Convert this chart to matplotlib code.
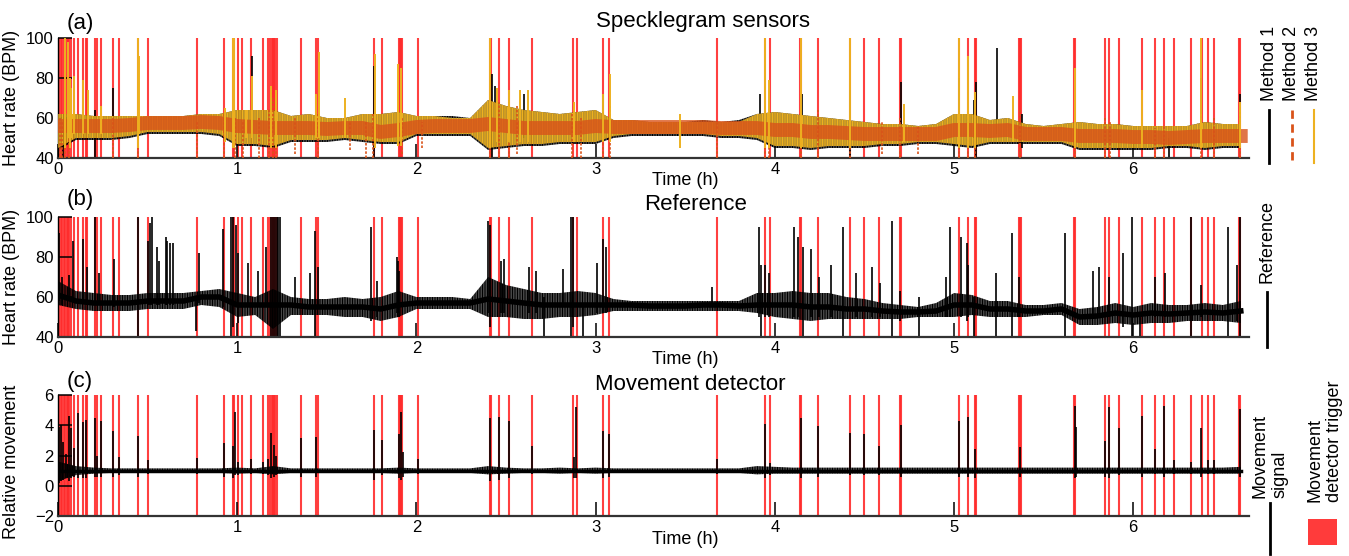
import numpy as np
import matplotlib.pyplot as plt
from matplotlib.lines import Line2D
from matplotlib.patches import Rectangle

plt.rcParams['font.family'] = ['Liberation Sans', 'DejaVu Sans']
plt.rcParams['hatch.linewidth'] = 1.0

# envelope grid (hours), one reading every 0.1 h
t_grid = np.round(np.arange(0, 6.65, 0.1), 1)

# movement detector triggers (h)
triggers = [0.0, 0.008, 0.016, 0.024, 0.032, 0.040, 0.048, 0.056, 0.064, 0.075, 0.088,
            0.112, 0.137, 0.155, 0.163, 0.206, 0.215, 0.238, 0.309, 0.341, 0.444, 0.502,
            0.773, 0.927, 0.978, 0.983, 1.006, 1.026, 1.077, 1.142, 1.170, 1.185, 1.192,
            1.199, 1.206, 1.213, 1.220, 1.358, 1.442, 1.450, 1.764, 1.809, 1.901, 1.908,
            1.915, 1.922, 2.009, 2.410, 2.416, 2.463, 2.515, 2.645, 2.875, 2.897, 3.043,
            3.077, 3.678, 3.945, 3.972, 4.143, 4.148, 4.241, 4.422, 4.496, 4.580, 4.700,
            4.705, 5.028, 5.080, 5.115, 5.122, 5.362, 5.368, 5.374, 5.670, 5.677, 5.845,
            5.867, 5.921, 6.051, 6.124, 6.172, 6.226, 6.321, 6.381, 6.418, 6.449, 6.592,
            6.598]

# ---- (a) specklegram sensors: noise envelope + centre of each method (BPM) ----
m1_lo = [44, 49, 49, 49, 50, 52, 52, 52, 52, 51, 46, 46, 45, 48, 48, 48, 49, 48, 47, 47,
         51, 51, 51, 51, 44, 45, 46, 46, 47, 47, 47, 50, 51, 51, 51, 51, 51, 50, 50, 49,
         45, 45, 44, 45, 45, 45, 46, 46, 47, 47, 46, 45, 47, 47, 47, 47, 47, 44, 44, 44,
         44, 44, 45, 45, 44, 45, 45]
m1_hi = [62, 62, 61, 61, 61, 61, 61, 61, 62, 62, 64, 64, 64, 61, 62, 60, 60, 62, 62, 63,
         61, 61, 61, 60, 69, 66, 64, 63, 62, 63, 64, 59, 59, 58, 58, 58, 59, 58, 59, 62,
         63, 62, 61, 60, 59, 58, 57, 57, 56, 57, 62, 62, 59, 60, 57, 56, 57, 58, 57, 57,
         56, 56, 56, 56, 58, 57, 57]
m3_lo = [45, 50, 50, 50, 51, 53, 53, 53, 53, 52, 47, 47, 46, 49, 49, 49, 50, 49, 48, 48,
         52, 52, 52, 52, 45, 46, 47, 47, 48, 48, 48, 51, 52, 52, 52, 52, 52, 51, 51, 50,
         46, 46, 45, 46, 46, 46, 47, 47, 48, 48, 47, 46, 48, 48, 48, 48, 48, 45, 45, 45,
         45, 45, 46, 46, 45, 46, 46]
m3_hi = [62, 62, 61, 61, 61, 61, 61, 61, 62, 62, 64, 64, 64, 61, 62, 60, 60, 62, 62, 63,
         61, 61, 60, 60, 69, 66, 64, 63, 62, 63, 64, 59, 59, 58, 58, 58, 58, 58, 58, 62,
         63, 62, 61, 60, 59, 58, 57, 57, 56, 57, 62, 62, 59, 60, 57, 56, 57, 58, 57, 57,
         56, 56, 56, 56, 58, 57, 57]
m2_mid = [56, 56, 56, 56, 56.5, 57.5, 57.5, 57.5, 58, 57.5, 56, 55.5, 55, 55, 55, 54.5,
          55, 55, 53, 54, 55.5, 56, 56, 56, 57, 56, 55, 55, 55, 55, 56, 55.5, 55.5, 55.5,
          55.5, 55.5, 55.5, 55, 55, 55, 54, 54, 53, 53, 52.5, 52, 52, 52, 52, 52, 54, 54,
          53.5, 54, 52, 52, 52, 51, 51, 51, 50.5, 50.5, 50, 50.5, 51, 51, 51]

# single spikes (time h, low, high)
m1_spk_t = [0.03, 0.206, 0.309, 1.08, 1.764, 2.42, 2.44, 2.60, 3.04, 3.92, 4.15, 4.42,
            4.703, 5.028, 5.11, 5.12, 5.24, 5.38, 6.20, 6.38, 6.594]
m1_spk_lo = [40, 40, 52, 50, 40, 40, 45, 50, 50, 50, 50, 40, 50, 48, 50, 40, 52, 45, 40,
             45, 45]
m1_spk_hi = [62, 64, 75, 91, 86, 82, 76, 72, 72, 72, 72, 74, 78, 80, 69, 78, 95, 62, 50,
             80, 72]
m3_spk_t = [0.04, 0.056, 0.065, 0.07, 0.088, 0.14, 0.17, 0.24, 0.444, 0.45, 0.93, 0.978,
            0.983, 1.05, 1.08, 1.19, 1.215, 1.442, 1.455, 1.60, 1.77, 1.90, 1.915, 2.413,
            2.45, 2.515, 2.58, 2.62, 2.878, 3.043, 3.08, 3.47, 3.945, 3.965, 4.145, 4.42,
            4.72, 5.028, 5.08, 5.115, 5.33, 5.673, 6.05, 6.38, 6.594]
m3_spk_lo = [45, 50, 45, 50, 52, 52, 52, 52, 45, 52, 48, 45, 45, 50, 50, 45, 45, 50, 50,
             50, 45, 46, 46, 45, 48, 48, 48, 48, 48, 48, 48, 45, 45, 45, 45, 45, 48, 45,
             45, 45, 48, 45, 45, 45, 45]
m3_spk_hi = [100, 98, 80, 75, 81, 79, 74, 66, 100, 91, 65, 100, 100, 64, 81, 76, 74, 72,
             93, 70, 92, 87, 85, 100, 75, 74, 74, 74, 68, 72, 82, 62, 100, 79, 100, 100,
             67, 100, 91, 73, 71, 85, 74, 100, 68]
m2_spk_t = [0.01, 0.02, 0.04, 0.06, 0.309, 0.444, 0.773, 0.927, 0.99, 1.03, 1.12, 1.18,
            1.20, 1.215, 1.32, 1.45, 1.63, 1.72, 1.76, 1.92, 2.03, 2.41, 2.46, 2.515, 2.56,
            2.87, 2.92, 3.04, 3.08, 3.68, 3.945, 3.97, 4.145, 4.24, 4.42, 4.60, 4.70, 4.80,
            5.03, 5.08, 5.115, 5.37, 5.674, 5.845, 5.87, 6.12, 6.17, 6.38, 6.45, 6.594]
m2_spk_lo = [40, 40, 40, 40, 40, 40, 40, 40, 40, 40, 40, 40, 40, 40, 42, 40, 44, 40, 40,
             42, 45, 40, 40, 40, 42, 40, 40, 40, 40, 40, 40, 40, 40, 40, 40, 42, 40, 42,
             40, 40, 40, 40, 40, 40, 40, 40, 40, 40, 40, 40]
m2_spk_hi = [60, 58, 60, 58, 60, 60, 58, 62, 60, 58, 60, 65, 70, 68, 60, 62, 58, 58, 62,
             60, 58, 70, 68, 72, 66, 62, 60, 64, 66, 58, 66, 62, 62, 64, 60, 58, 60, 56,
             62, 64, 62, 64, 60, 60, 58, 55, 56, 62, 60, 64]

# ---- (b) reference heart rate (BPM) ----
ref_lo = [56, 54, 53, 53, 53, 54, 54, 54, 56, 55, 50, 51, 44, 51, 51, 51, 50, 50, 48, 50,
          54, 54, 54, 54, 50, 50, 49, 49, 50, 50, 51, 53, 53, 53, 53, 53, 53, 53, 53, 52,
          50, 49, 48, 49, 49, 49, 49, 49, 50, 50, 50, 51, 50, 50, 50, 51, 51, 46, 46, 47,
          46, 47, 47, 48, 48, 48, 47]
ref_hi = [68, 63, 62, 61, 61, 62, 62, 62, 63, 64, 62, 60, 64, 60, 59, 59, 60, 59, 60, 63,
          60, 60, 60, 59, 70, 66, 64, 62, 62, 63, 62, 59, 58, 58, 58, 58, 58, 58, 58, 62,
          62, 63, 62, 62, 60, 59, 57, 56, 55, 57, 62, 61, 58, 58, 56, 56, 57, 54, 55, 57,
          55, 57, 56, 56, 57, 56, 58]
ref_mid = [61, 58, 57, 57, 57, 58, 58, 58, 60, 60, 56, 56, 56, 56, 55, 55, 55, 55, 54, 56,
           57, 57, 57, 57, 59, 58, 57, 56, 56, 56, 56, 56, 56, 55.5, 55.5, 55.5, 56, 56,
           55.5, 56, 56, 56, 55, 55, 54, 54, 53, 52.5, 52.5, 53, 56, 56, 54, 54, 53, 53, 54,
           50, 50.5, 52, 51, 52, 51.5, 52, 52.5, 52, 53]
ref_spk_t = [0.005, 0.02, 0.06, 0.084, 0.137, 0.16, 0.206, 0.23, 0.31, 0.444, 0.50, 0.515,
             0.525, 0.553, 0.565, 0.60, 0.61, 0.625, 0.64, 0.77, 0.785, 0.923, 0.963, 0.978,
             0.993, 1.006, 1.06, 1.115, 1.16, 1.19, 1.20, 1.21, 1.22, 1.23, 1.24, 1.32,
             1.405, 1.433, 1.45, 1.745, 1.78, 1.89, 1.895, 1.905, 2.40, 2.41, 2.47, 2.49,
             2.63, 2.67, 2.71, 2.82, 2.865, 2.875, 2.93, 3.01, 3.04, 3.06, 3.65, 3.91, 3.925,
             3.945, 3.965, 4.105, 4.13, 4.155, 4.20, 4.245, 4.315, 4.38, 4.455, 4.54, 4.585,
             4.656, 4.70, 4.805, 4.955, 4.98, 5.037, 5.07, 5.08, 5.11, 5.232, 5.325, 5.36,
             5.617, 5.775, 5.81, 5.863, 5.943, 5.993, 6.04, 6.12, 6.175, 6.32, 6.38, 6.53,
             6.58, 6.594]
ref_spk_lo = [58, 56, 58, 58, 57, 57, 56, 56, 55, 40, 56, 56, 56, 56, 56, 56, 56, 56, 56,
              43, 57, 55, 40, 45, 55, 47, 55, 55, 55, 40, 40, 40, 40, 40, 40, 55, 55, 40,
              55, 48, 50, 52, 52, 50, 52, 45, 52, 52, 52, 52, 40, 55, 40, 45, 40, 52, 52,
              52, 55, 50, 40, 50, 50, 50, 50, 40, 50, 50, 50, 40, 50, 50, 50, 40, 48, 40,
              50, 50, 50, 48, 50, 40, 40, 40, 50, 40, 50, 50, 50, 45, 40, 40, 50, 50, 40,
              50, 40, 48, 40]
ref_spk_hi = [92, 70, 71, 88, 89, 75, 100, 72, 79, 100, 88, 97, 100, 85, 78, 90, 88, 87,
              87, 60, 82, 94, 100, 100, 96, 82, 77, 73, 85, 100, 100, 100, 100, 100, 100,
              70, 72, 93, 75, 95, 68, 80, 78, 73, 98, 96, 78, 79, 75, 73, 60, 74, 100, 100,
              56, 77, 89, 85, 65, 95, 76, 76, 72, 95, 90, 85, 84, 70, 76, 95, 72, 75, 67,
              98, 63, 60, 70, 95, 90, 87, 76, 60, 72, 92, 70, 92, 73, 75, 70, 82, 100, 52,
              70, 72, 100, 66, 95, 76, 100]

# ---- (c) relative movement ----
mv_lo = [0.3, 0.7, 0.8, 0.85, 0.85, 0.85, 0.85, 0.85, 0.85, 0.85, 0.8, 0.85, 0.75, 0.85,
         0.85, 0.85, 0.85, 0.85, 0.85, 0.8, 0.85, 0.85, 0.85, 0.85, 0.75, 0.8, 0.85, 0.85,
         0.8, 0.85, 0.8, 0.85, 0.85, 0.85, 0.85, 0.85, 0.85, 0.85, 0.85, 0.75, 0.8, 0.8,
         0.8, 0.8, 0.8, 0.8, 0.8, 0.8, 0.8, 0.8, 0.8, 0.8, 0.8, 0.8, 0.8, 0.8, 0.8, 0.8,
         0.8, 0.8, 0.8, 0.8, 0.8, 0.8, 0.8, 0.8, 0.8]
mv_hi = [1.6, 1.3, 1.2, 1.15, 1.15, 1.15, 1.15, 1.15, 1.15, 1.15, 1.2, 1.15, 1.3, 1.15,
         1.15, 1.15, 1.15, 1.15, 1.15, 1.2, 1.15, 1.15, 1.15, 1.15, 1.3, 1.2, 1.15, 1.15,
         1.2, 1.15, 1.2, 1.15, 1.15, 1.15, 1.15, 1.15, 1.15, 1.15, 1.15, 1.3, 1.25, 1.2,
         1.2, 1.2, 1.2, 1.2, 1.2, 1.2, 1.2, 1.2, 1.2, 1.2, 1.2, 1.2, 1.2, 1.2, 1.2, 1.2,
         1.2, 1.2, 1.2, 1.2, 1.2, 1.2, 1.2, 1.2, 1.25]
mv_mid = [1.0, 1.0, 1.0, 1.0, 1.0, 1.0, 1.0, 1.0, 1.0, 1.0, 1.0, 1.0, 1.0, 1.0, 1.0, 1.0,
          1.0, 1.0, 1.0, 1.0, 1.0, 1.0, 1.0, 1.0, 1.0, 1.0, 1.0, 1.0, 1.0, 1.0, 1.0, 1.0,
          1.0, 1.0, 1.0, 1.0, 1.0, 1.0, 1.0, 1.0, 1.0, 1.0, 1.0, 1.0, 1.0, 1.0, 1.0, 1.0,
          1.0, 1.0, 1.0, 1.0, 1.0, 1.0, 1.0, 1.0, 1.0, 1.0, 1.0, 1.0, 1.0, 1.0, 1.0, 1.0,
          1.0, 1.0, 1.0]
mv_spk_t = [0.005, 0.015, 0.03, 0.045, 0.06, 0.075, 0.088, 0.112, 0.137, 0.155, 0.206,
            0.215, 0.238, 0.309, 0.341, 0.444, 0.502, 0.773, 0.927, 0.978, 0.99, 1.006,
            1.077, 1.142, 1.170, 1.19, 1.205, 1.215, 1.358, 1.442, 1.764, 1.809, 1.901,
            1.915, 1.923, 2.009, 2.413, 2.463, 2.515, 2.645, 2.878, 2.893, 3.043, 3.077,
            3.678, 3.944, 3.972, 4.145, 4.241, 4.422, 4.496, 4.58, 4.702, 5.028, 5.08,
            5.115, 5.368, 5.673, 5.68, 5.844, 5.867, 5.92, 6.05, 6.123, 6.172, 6.226, 6.32,
            6.38, 6.417, 6.449, 6.594]
mv_spk_lo = [0.2, 0.3, 0.4, 0.5, 0.3, 0.5, 0.6, 0.5, 0.5, 0.5, 0.6, 0.6, 0.6, 0.6, 0.7,
             0.6, 0.8, 0.8, 0.6, 0.5, 0.7, 0.7, 0.8, 0.8, 0.7, 0.5, 0.6, 0.7, 0.6, 0.6,
             0.4, 0.7, 0.5, 0.4, 0.6, 0.8, 0.3, 0.4, 0.5, 0.8, 0.5, 0.5, 0.5, 0.6, 0.8,
             0.5, 0.7, 0.5, 0.6, 0.7, 0.7, 0.7, 0.6, 0.6, 0.6, 0.5, 0.6, 0.5, 0.6, 0.6,
             0.5, 0.7, 0.6, 0.8, 0.6, 0.8, 0.8, 0.6, 0.8, 0.8, 0.6]
mv_spk_hi = [3.9, 4.0, 2.9, 2.1, 4.6, 3.8, 2.5, 4.8, 4.2, 4.35, 4.45, 2.0, 4.25, 3.6, 1.9,
             3.3, 1.7, 1.85, 2.8, 2.6, 4.9, 1.6, 1.8, 1.6, 1.8, 3.5, 2.7, 2.0, 3.15, 3.2,
             3.7, 3.0, 3.4, 4.85, 2.2, 1.8, 4.45, 4.55, 4.25, 2.6, 1.9, 5.2, 3.6, 3.45,
             1.75, 4.05, 1.5, 4.5, 3.95, 3.5, 3.45, 2.6, 4.0, 4.25, 4.55, 2.45, 2.55, 5.3,
             3.9, 2.95, 5.2, 3.8, 4.6, 2.4, 5.3, 1.7, 1.6, 3.85, 1.7, 1.7, 5.1]

W, H = 1349, 556
RED = '#ff2b2b'
M2_COL = '#D95319'
M3_COL = '#EDB120'
NOISE = '||||||||||'   # dense vertical hatch stands in for the sample-to-sample jitter


def box(top, bottom):
    # axes rectangle from pixel rows (left/right edges are shared)
    return [58 / W, 1 - bottom / H, (1249 - 58) / W, (bottom - top) / H]


def px(x, y):
    return x / W, 1 - y / H


fig = plt.figure(figsize=(W / 100, H / 100), dpi=100)
ax_a = fig.add_axes(box(38, 158))
ax_b = fig.add_axes(box(217, 337))
ax_c = fig.add_axes(box(395, 516))

for ax in (ax_a, ax_b, ax_c):
    for t in triggers:
        ax.axvline(t, color=RED, lw=1.5, alpha=0.9, zorder=1)
    ax.set_xlim(0, 6.646)
    ax.set_xticks(range(7))
    ax.spines['top'].set_visible(False)
    ax.spines['right'].set_visible(False)
    ax.spines['bottom'].set_linewidth(1.6)
    ax.spines['bottom'].set_color('#333333')
    ax.spines['left'].set_linewidth(1.0)
    ax.tick_params(direction='in', length=10, width=1.1, labelsize=12, pad=3)
    ax.set_xlabel('Time (h)', fontsize=13)
    ax.xaxis.set_label_coords((685 - 58) / (1249 - 58), -0.12)

# (a)
ax_a.fill_between(t_grid, m1_lo, m1_hi, facecolor='none', edgecolor='k', hatch=NOISE,
                  lw=0, zorder=2)
ax_a.vlines(m1_spk_t, m1_spk_lo, m1_spk_hi, color='k', lw=1.2, zorder=2)
ax_a.fill_between(t_grid, m3_lo, m3_hi, facecolor='none', edgecolor=M3_COL, hatch=NOISE,
                  lw=0, zorder=3)
ax_a.vlines(m3_spk_t, m3_spk_lo, m3_spk_hi, color=M3_COL, lw=1.4, zorder=4)
ax_a.plot(t_grid, m2_mid, color=M2_COL, lw=10, alpha=0.8, zorder=3)
ax_a.vlines(m2_spk_t, m2_spk_lo, m2_spk_hi, color=M2_COL, lw=1.2, linestyles=(0, (1.5, 1)),
            zorder=3)
ax_a.set_ylim(40, 100)
ax_a.set_yticks([40, 60, 80, 100])
ax_a.set_ylabel('Heart rate (BPM)', fontsize=13)

# (b)
ax_b.fill_between(t_grid, ref_lo, ref_hi, facecolor='none', edgecolor='k', hatch=NOISE,
                  lw=0, zorder=2)
ax_b.plot(t_grid, ref_mid, color='k', lw=4, zorder=2)
ax_b.vlines(ref_spk_t, ref_spk_lo, ref_spk_hi, color='k', lw=1.2, zorder=2)
ax_b.set_ylim(40, 100)
ax_b.set_yticks([40, 60, 80, 100])
ax_b.set_ylabel('Heart rate (BPM)', fontsize=13)

# (c)
ax_c.fill_between(t_grid, mv_lo, mv_hi, facecolor='none', edgecolor='k', hatch=NOISE,
                  lw=0, zorder=2)
ax_c.plot(t_grid, mv_mid, color='k', lw=2.5, zorder=2)
ax_c.vlines(mv_spk_t, mv_spk_lo, mv_spk_hi, color='k', lw=1.2, zorder=2)
ax_c.set_ylim(-2, 6)
ax_c.set_yticks([-2, 0, 2, 4, 6])
ax_c.set_ylabel('Relative movement', fontsize=13)

for ax, ylab in [(ax_a, 0.5), (ax_b, 0.5), (ax_c, 0.45)]:
    ax.yaxis.set_label_coords((20 - 58) / (1249 - 58), ylab)

# panel letters and titles
for label, (x, y) in [('(a)', (67, 23)), ('(b)', (67, 200)), ('(c)', (67, 381))]:
    fig.text(*px(x, y), label, fontsize=16, ha='left', va='center')
for title, (x, y) in [('Specklegram sensors', (703, 21)), ('Reference', (696, 205)),
                      ('Movement detector', (690, 384))]:
    fig.text(*px(x, y), title, fontsize=16, ha='center', va='center')


# right-hand legends
def legend_entry(x, text, y_text, y0, y1, **line_kw):
    fig.text(*px(x, y_text), text, rotation=90, fontsize=13, ha='center', va='bottom',
             multialignment='left')
    fig.add_artist(Line2D([x / W, x / W], [1 - y0 / H, 1 - y1 / H],
                          transform=fig.transFigure, **line_kw))


legend_entry(1269, 'Method 1', 101, 110, 163, color='k', lw=2)
legend_entry(1292, 'Method 2', 101, 110, 163, color=M2_COL, lw=2, ls=(0, (3, 2)))
legend_entry(1314, 'Method 3', 101, 110, 163, color=M3_COL, lw=1.5)
legend_entry(1267, 'Reference', 283, 292, 347, color='k', lw=2)
legend_entry(1270, 'Movement\nsignal', 498, 503, 554, color='k', lw=2)
fig.text(*px(1325, 502), 'Movement\ndetector trigger', rotation=90, fontsize=13,
         ha='center', va='bottom', multialignment='left')
fig.add_artist(Rectangle(px(1308, 545), 29 / W, 26 / H, transform=fig.transFigure,
                         color='#ff3b3b', lw=0))

fig.savefig('out.png', dpi=100)
